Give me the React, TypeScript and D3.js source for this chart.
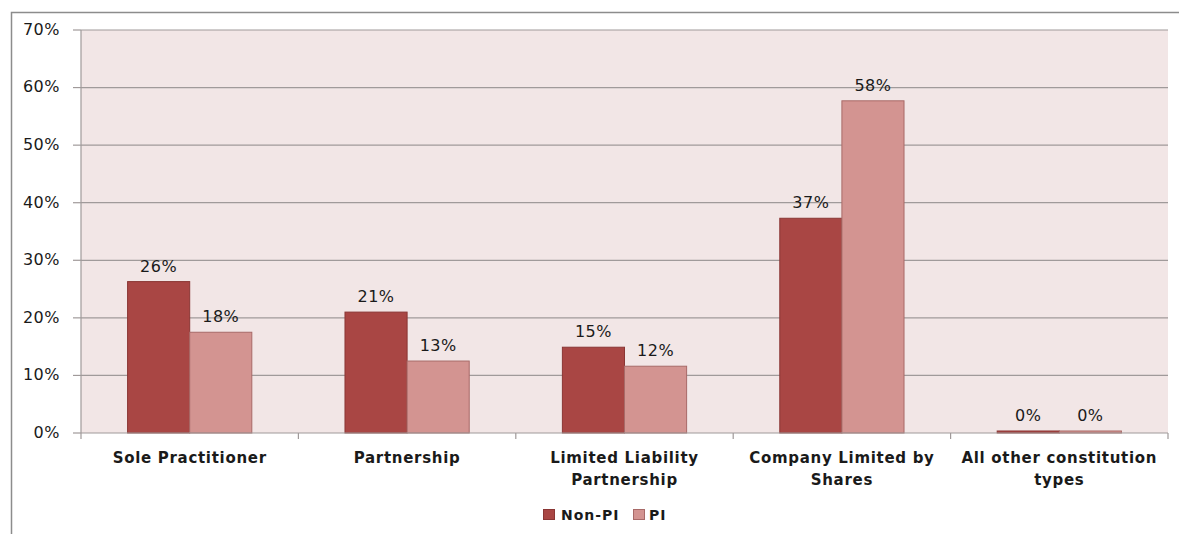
import React from "react";
import * as d3 from "d3";

const categories = [
  ["Sole Practitioner"],
  ["Partnership"],
  ["Limited Liability", "Partnership"],
  ["Company Limited by", "Shares"],
  ["All other constitution", "types"],
];
const seriesNames = ["Non-PI", "PI"];
const nonPI = [26.3, 21.0, 14.9, 37.3, 0.35];
const pi = [17.5, 12.5, 11.6, 57.7, 0.35];
const yTicks = [0, 10, 20, 30, 40, 50, 60, 70];
const colors = ["#a94644", "#d39491"];
const strokes = ["#8a3634", "#a86a68"];

export default function App() {
  const W = 1179, H = 534;
  const left = 81, right = 1168, top = 30, bottom = 433;
  const x0 = d3.scaleBand<number>().domain(d3.range(categories.length)).range([left, right]).paddingInner(0).paddingOuter(0);
  const y = d3.scaleLinear().domain([0, 70]).range([bottom, top]);
  const bw = x0.bandwidth();
  const barW = bw / 3.5;
  const series = [nonPI, pi];
  const font = "'DejaVu Sans', Verdana, sans-serif";
  return (
    <svg width={W} height={H} style={{ position: "absolute", left: 0, top: 0 }}>
      <rect x={0} y={0} width={W} height={H} fill="#fff" />
      <path d={`M11.5,${H} V12.5 H${W}`} fill="none" stroke="#8c8c8c" strokeWidth={1.5} />
      <rect x={left} y={top} width={right - left} height={bottom - top} fill="#f2e6e6" />
      {yTicks.map((t) => (
        <g key={t}>
          {t > 0 && <line x1={left} x2={right} y1={y(t)} y2={y(t)} stroke="#a09a9a" strokeWidth={1.2} />}
          <line x1={left - 8} x2={left} y1={y(t)} y2={y(t)} stroke="#a09a9a" strokeWidth={1.2} />
          <text x={left - 21} y={y(t)} dy="0.3em" textAnchor="end" fontFamily={font} fontSize={16} letterSpacing={0.5} fill="#1a1a1a">{t}%</text>
        </g>
      ))}
      <line x1={left} x2={left} y1={top} y2={bottom} stroke="#a09a9a" strokeWidth={1.2} />
      {categories.map((c, i) => {
        const cx = x0(i)! + bw / 2;
        return (
          <g key={i}>
            {series.map((s, j) => {
              const bx = cx - barW + j * barW;
              return (
                <g key={j}>
                  <rect x={bx} y={y(s[i])} width={barW} height={bottom - y(s[i])} fill={colors[j]} stroke={strokes[j]} strokeWidth={1} />
                  <text x={bx + barW / 2} y={y(s[i]) - 10} textAnchor="middle" fontFamily={font} fontSize={16} letterSpacing={0.5} fill="#1a1a1a">{Math.round(s[i])}%</text>
                </g>
              );
            })}
            {c.map((line, k) => (
              <text key={k} x={cx} y={463 + k * 22} textAnchor="middle" fontFamily={font} fontSize={15} fontWeight={600} letterSpacing={0.7} fill="#1a1a1a">{line}</text>
            ))}
          </g>
        );
      })}
      {d3.range(categories.length + 1).map((i) => {
        const xx = left + i * bw;
        return <line key={i} x1={xx} x2={xx} y1={bottom} y2={bottom + 6} stroke="#a09a9a" strokeWidth={1.2} />;
      })}
      <line x1={left} x2={right} y1={bottom} y2={bottom} stroke="#a09a9a" strokeWidth={1.2} />
      <g fontFamily={font} fontSize={14} fontWeight={600} letterSpacing={1} fill="#1a1a1a">
        <rect x={543.5} y={509.5} width={11} height={10} fill={colors[0]} stroke={strokes[0]} />
        <text x={561} y={519.5}>{seriesNames[0]}</text>
        <rect x={633.5} y={509.5} width={11} height={10} fill={colors[1]} stroke={strokes[1]} />
        <text x={649} y={519.5}>{seriesNames[1]}</text>
      </g>
    </svg>
  );
}
